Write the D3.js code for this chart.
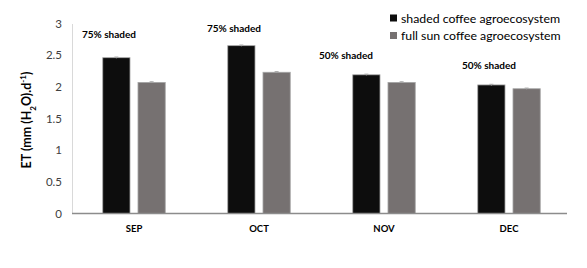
<!DOCTYPE html>
<html>
<head>
<meta charset="utf-8">
<script src="https://cdn.jsdelivr.net/npm/d3@7"></script>
<style>
  html, body { margin: 0; padding: 0; background: #fff; }
  svg { display: block; }
</style>
</head>
<body>
<svg id="chart" width="587" height="268"></svg>
<script>
const months = ["SEP", "OCT", "NOV", "DEC"];
const seriesNames = ["shaded coffee agroecosystem", "full sun coffee agroecosystem"];
const shadedValues = [2.46, 2.65, 2.19, 2.03];
const fullSunValues = [2.07, 2.23, 2.07, 1.97];
const shadedErrors = [0.01, 0.01, 0.01, 0.01];
const fullSunErrors = [0.01, 0.01, 0.01, 0.01];
const yTicks = [0, 0.5, 1, 1.5, 2, 2.5, 3];
const annotationLabels = ["75% shaded", "75% shaded", "50% shaded", "50% shaded"];
const annotationValues = [2.81, 2.91, 2.48, 2.32];
const annotationOffsets = [-25, -25, -38, -20];

const svg = d3.select("#chart");
const colors = ["#0d0d0d", "#767171"];
const fontFamily = "Lato, 'Open Sans', 'Liberation Sans', sans-serif";

const y = d3.scaleLinear().domain([0, 3]).range([213.5, 23.5]);
const x0 = d3.scaleBand().domain(months).range([71.5, 571.5]).paddingInner(0.5).paddingOuter(0.25);
const x1 = d3.scaleBand().domain(seriesNames).range([0, x0.bandwidth()]).paddingInner(0.2266);

// y axis
const yAxis = d3.axisLeft(y).tickValues(yTicks).tickSize(0).tickPadding(10).tickFormat(d3.format("~g"));
const gy = svg.append("g").attr("transform", "translate(72,0)").call(yAxis);
gy.select(".domain").attr("stroke", "#d9d9d9").attr("stroke-width", 1);
gy.selectAll("text").attr("fill", "#404040").style("font-family", fontFamily).style("font-size", "11.5px");

// bars
const data = months.map((m, i) => ({
  month: m,
  vals: [
    { s: seriesNames[0], v: shadedValues[i], e: shadedErrors[i] },
    { s: seriesNames[1], v: fullSunValues[i], e: fullSunErrors[i] }
  ]
}));

const groups = svg.append("g").selectAll("g").data(data).join("g")
  .attr("transform", d => `translate(${x0(d.month)},0)`);

groups.selectAll("rect").data(d => d.vals).join("rect")
  .attr("x", d => x1(d.s))
  .attr("y", d => y(d.v))
  .attr("width", x1.bandwidth())
  .attr("height", d => y(0) - y(d.v))
  .attr("fill", (d, i) => colors[i])
  .attr("stroke", "#a6a6a6")
  .attr("stroke-width", 0.8);

// error bars
groups.selectAll("g.err").data(d => d.vals).join("g").attr("class", "err")
  .each(function(d) {
    const g = d3.select(this);
    const cx = x1(d.s) + x1.bandwidth() / 2;
    g.append("line").attr("x1", cx).attr("x2", cx).attr("y1", y(d.v + d.e)).attr("y2", y(d.v - d.e))
      .attr("stroke", "#a6a6a6").attr("stroke-width", 1);
    g.append("line").attr("x1", cx - 2).attr("x2", cx + 2).attr("y1", y(d.v + d.e)).attr("y2", y(d.v + d.e))
      .attr("stroke", "#a6a6a6").attr("stroke-width", 1);
  });

// x axis baseline
const xAxis = d3.axisBottom(x0).tickSize(0).tickPadding(12);
const gx = svg.append("g").attr("transform", `translate(0,${y(0)})`).call(xAxis);
gx.select(".domain").remove();
svg.append("line").attr("x1", 72).attr("x2", 567).attr("y1", y(0)).attr("y2", y(0))
  .attr("stroke", "#8c8c8c").attr("stroke-width", 1.5);
gx.selectAll("text").attr("fill", "#000").style("font-family", fontFamily)
  .style("font-size", "9.5px").style("font-weight", "bold");

// annotations
svg.append("g").selectAll("text").data(months).join("text")
  .attr("x", (m, i) => x0(m) + x0.bandwidth() / 2 + annotationOffsets[i])
  .attr("y", (m, i) => y(annotationValues[i]))
  .attr("text-anchor", "middle")
  .attr("dominant-baseline", "middle")
  .style("font-family", fontFamily).style("font-size", "10px").style("font-weight", "bold")
  .text((m, i) => annotationLabels[i]);

// y title
const yt = svg.append("text")
  .attr("transform", "translate(31,120) rotate(-90)")
  .attr("text-anchor", "middle")
  .style("font-family", fontFamily).style("font-size", "12.5px").style("font-weight", "bold");
yt.append("tspan").text("ET (mm (H");
yt.append("tspan").attr("baseline-shift", "sub").style("font-size", "8px").text("2");
yt.append("tspan").text("O).d");
yt.append("tspan").attr("baseline-shift", "super").style("font-size", "8px").text("-1");
yt.append("tspan").text(")");

// legend
const legend = svg.append("g").selectAll("g").data(seriesNames).join("g")
  .attr("transform", (d, i) => `translate(390,${18 + i * 17.5})`);
legend.append("rect").attr("x", 0).attr("y", -3.5).attr("width", 7).attr("height", 7)
  .attr("fill", (d, i) => colors[i]);
legend.append("text").attr("x", 11).attr("y", 0).attr("dominant-baseline", "central")
  .style("font-family", fontFamily).style("font-size", "12.3px").attr("fill", "#000")
  .text(d => d);
</script>
</body>
</html>
